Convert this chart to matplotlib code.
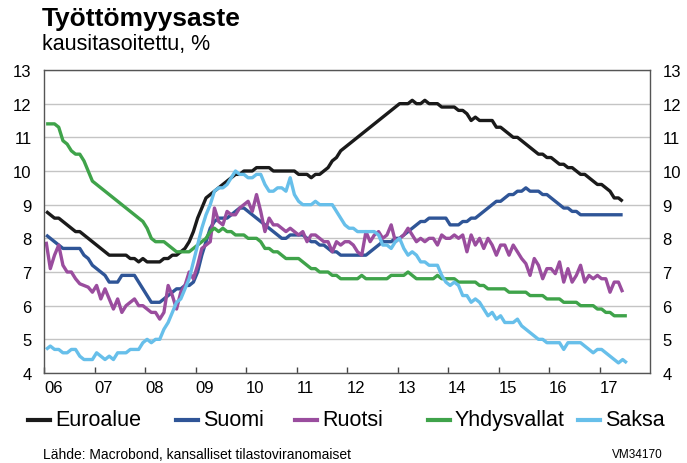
import numpy as np
import matplotlib
matplotlib.use("Agg")
import matplotlib.pyplot as plt
from matplotlib.lines import Line2D

plt.rcParams['font.family'] = ['Liberation Sans', 'DejaVu Sans']

# kuukausittaiset arvot tammikuusta 2006 alkaen
euroalue = [
    8.8, 8.7, 8.6, 8.6, 8.5, 8.4, 8.3, 8.2, 8.2, 8.1, 8.0, 7.9,
    7.8, 7.7, 7.6, 7.5, 7.5, 7.5, 7.5, 7.5, 7.4, 7.4, 7.3, 7.4,
    7.3, 7.3, 7.3, 7.3, 7.4, 7.4, 7.5, 7.5, 7.6, 7.7, 7.9, 8.2,
    8.6, 8.9, 9.2, 9.3, 9.4, 9.5, 9.6, 9.7, 9.8, 9.9, 9.9, 10.0,
    10.0, 10.0, 10.1, 10.1, 10.1, 10.1, 10.0, 10.0, 10.0, 10.0, 10.0, 10.0,
    9.9, 9.9, 9.9, 9.8, 9.9, 9.9, 10.0, 10.1, 10.3, 10.4, 10.6, 10.7,
    10.8, 10.9, 11.0, 11.1, 11.2, 11.3, 11.4, 11.5, 11.6, 11.7, 11.8, 11.9,
    12.0, 12.0, 12.0, 12.1, 12.0, 12.0, 12.1, 12.0, 12.0, 12.0, 11.9, 11.9,
    11.9, 11.9, 11.8, 11.8, 11.7, 11.5, 11.6, 11.5, 11.5, 11.5, 11.5, 11.3,
    11.3, 11.2, 11.1, 11.0, 11.0, 10.9, 10.8, 10.7, 10.6, 10.5, 10.5, 10.4,
    10.4, 10.3, 10.2, 10.2, 10.1, 10.1, 10.0, 9.9, 9.9, 9.8, 9.7, 9.6,
    9.6, 9.5, 9.4, 9.2, 9.2, 9.1,
]
suomi = [
    8.1, 8.0, 7.9, 7.8, 7.7, 7.7, 7.7, 7.7, 7.7, 7.5, 7.4, 7.2,
    7.1, 7.0, 6.9, 6.7, 6.7, 6.7, 6.9, 6.9, 6.9, 6.9, 6.7, 6.5,
    6.3, 6.1, 6.1, 6.1, 6.2, 6.3, 6.4, 6.5, 6.5, 6.6, 6.6, 6.7,
    7.0, 7.5, 7.9, 8.3, 8.5, 8.6, 8.6, 8.6, 8.7, 8.8, 8.9, 8.9,
    8.8, 8.7, 8.6, 8.5, 8.4, 8.3, 8.2, 8.1, 8.0, 8.0, 8.1, 8.1,
    8.1, 8.1, 8.0, 7.9, 7.9, 7.8, 7.8, 7.7, 7.6, 7.6, 7.5, 7.5,
    7.5, 7.5, 7.5, 7.5, 7.5, 7.6, 7.7, 7.8, 7.9, 7.9, 7.9, 8.0,
    8.0, 8.1, 8.2, 8.3, 8.4, 8.5, 8.5, 8.6, 8.6, 8.6, 8.6, 8.6,
    8.4, 8.4, 8.4, 8.5, 8.5, 8.6, 8.6, 8.7, 8.8, 8.9, 9.0, 9.1,
    9.1, 9.2, 9.3, 9.3, 9.4, 9.4, 9.5, 9.4, 9.4, 9.4, 9.3, 9.3,
    9.2, 9.1, 9.0, 8.9, 8.9, 8.8, 8.8, 8.7, 8.7, 8.7, 8.7, 8.7,
    8.7, 8.7, 8.7, 8.7, 8.7, 8.7,
]
ruotsi = [
    7.9, 7.1, 7.5, 7.8, 7.2, 7.0, 7.0, 6.8, 6.65, 6.6, 6.55, 6.4,
    6.6, 6.2, 6.5, 6.2, 5.9, 6.2, 5.8, 6.0, 6.1, 6.2, 6.0, 6.0,
    5.9, 5.8, 5.8, 5.6, 5.8, 6.6, 6.3, 5.9, 6.4, 6.6, 7.0, 6.8,
    7.2, 7.7, 7.8, 7.9, 8.9, 8.5, 8.4, 8.8, 8.7, 8.7, 8.9, 9.0,
    9.1, 8.8, 9.3, 8.8, 8.2, 8.6, 8.4, 8.4, 8.3, 8.2, 8.3, 8.2,
    8.1, 8.2, 7.9, 8.1, 8.1, 8.0, 7.9, 7.9, 7.6, 7.9, 7.8, 7.9,
    7.9, 7.8, 7.6, 7.5, 8.2, 7.9, 8.1, 8.2, 8.0, 8.1, 8.4, 7.9,
    8.0, 8.1, 8.3, 8.1, 7.9, 8.0, 7.9, 8.0, 8.0, 7.8, 8.1, 8.0,
    8.0, 8.1, 8.0, 8.1, 7.6, 8.1, 7.8, 8.0, 7.7, 8.0, 7.8, 7.5,
    7.8, 7.8, 7.5, 7.8, 7.6, 7.4, 7.25, 6.9, 7.4, 7.2, 6.8, 7.1,
    7.1, 6.95, 7.3, 6.7, 7.1, 6.7, 6.9, 7.2, 6.7, 6.9, 6.8, 6.9,
    6.8, 6.8, 6.4, 6.7, 6.7, 6.4,
]
yhdysvallat = [
    11.4, 11.4, 11.4, 11.3, 10.9, 10.8, 10.6, 10.5, 10.5, 10.3, 10.0, 9.7,
    9.6, 9.5, 9.4, 9.3, 9.2, 9.1, 9.0, 8.9, 8.8, 8.7, 8.6, 8.5,
    8.3, 8.0, 7.9, 7.9, 7.9, 7.8, 7.7, 7.6, 7.6, 7.6, 7.6, 7.7,
    7.8, 7.9, 8.0, 8.2, 8.3, 8.2, 8.3, 8.2, 8.2, 8.1, 8.1, 8.1,
    8.0, 8.0, 8.0, 7.9, 7.7, 7.7, 7.6, 7.6, 7.5, 7.4, 7.4, 7.4,
    7.4, 7.3, 7.2, 7.1, 7.1, 7.0, 7.0, 7.0, 6.9, 6.9, 6.8, 6.8,
    6.8, 6.8, 6.8, 6.9, 6.8, 6.8, 6.8, 6.8, 6.8, 6.8, 6.9, 6.9,
    6.9, 6.9, 7.0, 6.9, 6.8, 6.8, 6.8, 6.8, 6.8, 6.9, 6.8, 6.8,
    6.8, 6.8, 6.7, 6.7, 6.7, 6.7, 6.7, 6.6, 6.6, 6.5, 6.5, 6.5,
    6.5, 6.5, 6.4, 6.4, 6.4, 6.4, 6.4, 6.3, 6.3, 6.3, 6.3, 6.2,
    6.2, 6.2, 6.2, 6.1, 6.1, 6.1, 6.1, 6.0, 6.0, 6.0, 6.0, 5.9,
    5.9, 5.8, 5.8, 5.7, 5.7, 5.7, 5.7,
]
saksa = [
    4.7, 4.8, 4.7, 4.7, 4.6, 4.6, 4.7, 4.7, 4.5, 4.4, 4.4, 4.4,
    4.6, 4.5, 4.4, 4.5, 4.4, 4.6, 4.6, 4.6, 4.7, 4.7, 4.7, 4.9,
    5.0, 4.9, 5.0, 5.0, 5.3, 5.5, 5.8, 6.1, 6.2, 6.5, 6.8, 7.3,
    7.8, 8.3, 8.7, 9.0, 9.4, 9.5, 9.5, 9.6, 9.8, 10.0, 9.9, 9.9,
    9.8, 9.8, 9.9, 9.9, 9.6, 9.4, 9.4, 9.5, 9.5, 9.4, 9.8, 9.3,
    9.1, 9.0, 9.0, 9.0, 9.1, 9.0, 9.0, 9.0, 9.0, 8.8, 8.6, 8.4,
    8.3, 8.3, 8.2, 8.2, 8.2, 8.2, 8.2, 8.1, 7.8, 7.8, 7.7, 7.9,
    8.0, 7.7, 7.5, 7.6, 7.5, 7.3, 7.3, 7.2, 7.2, 7.2, 6.9, 6.7,
    6.6, 6.7, 6.6, 6.3, 6.3, 6.1, 6.2, 6.1, 5.9, 5.7, 5.8, 5.6,
    5.7, 5.5, 5.5, 5.5, 5.6, 5.4, 5.3, 5.2, 5.1, 5.0, 5.0, 4.9,
    4.9, 4.9, 4.9, 4.7, 4.9, 4.9, 4.9, 4.9, 4.8, 4.7, 4.6, 4.7,
    4.7, 4.6, 4.5, 4.4, 4.3, 4.4, 4.3,
]

names = ['Euroalue', 'Suomi', 'Ruotsi', 'Yhdysvallat', 'Saksa']
series = [euroalue, suomi, ruotsi, yhdysvallat, saksa]
colors = ['#1a1a1a', '#2f5597', '#9a4d9e', '#3fa34a', '#67bfea']
year_labels = ['06', '07', '08', '09', '10', '11', '12', '13', '14', '15', '16', '17']

fig = plt.figure(figsize=(6.87, 4.64), dpi=100)
ax = fig.add_axes([44/687, 1-374/464, (650-44)/687, (374-71)/464])

for vals, c in zip(series, colors):
    m = np.arange(len(vals))
    x = 2006 + (m + 0.5) / 12
    ax.plot(x, vals, color=c, lw=2.4, solid_capstyle='butt', solid_joinstyle='round')

ax.set_xlim(2006, 2018)
ax.set_ylim(4, 13)
ax.set_yticks(range(4, 14))
ax.yaxis.grid(True, color='#c4c4c4', lw=1)
ax.set_axisbelow(True)
ax.tick_params(axis='y', length=0, labelsize=12, pad=9, labelright=True, right=False)
ax.set_xticks(np.arange(2006, 2018))
ax.set_xticklabels(year_labels, ha='left')
ax.tick_params(axis='x', direction='in', length=4, width=1, color='#444444', labelsize=12, pad=5)
for s in ax.spines.values():
    s.set_color('#555555')
    s.set_linewidth(1)

fig.text(42/687, 1-26/464, 'Työttömyysaste', fontsize=19, fontweight='bold')
fig.text(42/687, 1-50/464, 'kausitasoitettu, %', fontsize=15.5)

# selite
leg_x = [28, 176, 295, 428, 578]
for name, c, lx in zip(names, colors, leg_x):
    fig.add_artist(Line2D([lx/687, (lx+22)/687], [1-421/464, 1-421/464], color=c, lw=3))
    fig.text((lx+27)/687, 1-421/464, name, fontsize=15.5, va='center')

fig.text(43/687, 1-455/464, 'Lähde: Macrobond, kansalliset tilastoviranomaiset', fontsize=10, va='center')
fig.text(612/687, 1-455/464, 'VM34170', fontsize=8.5, va='center')

fig.savefig('out.png', dpi=100)
